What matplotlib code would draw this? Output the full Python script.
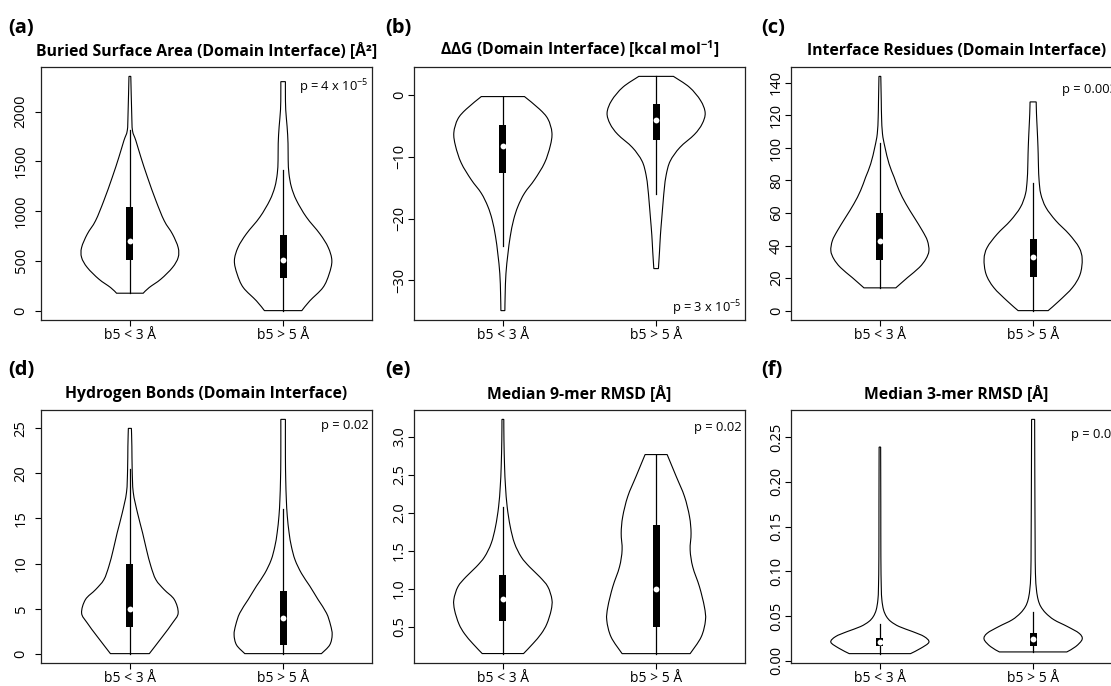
import numpy as np
import matplotlib
matplotlib.use("Agg")
import matplotlib.pyplot as plt
from matplotlib.path import Path
from matplotlib.patches import PathPatch, Rectangle
from matplotlib.ticker import FuncFormatter

plt.rcParams['font.family'] = ['Open Sans', 'DejaVu Sans']
plt.rcParams['mathtext.fontset'] = 'custom'
plt.rcParams['mathtext.rm'] = 'Open Sans'
plt.rcParams['mathtext.bf'] = 'Open Sans:bold'
plt.rcParams['mathtext.it'] = 'Open Sans:italic'

groups = ["b5 < 3 Å", "b5 > 5 Å"]

# violin outlines: levels (bottom -> top) and half widths (x units)
# (a) buried surface area
a1_y = [175, 232, 316, 433, 534, 634, 769, 903, 1104, 1339, 1540, 1708, 1809, 1977, 2353]
a1_w = [0.087, 0.126, 0.202, 0.278, 0.315, 0.315, 0.278, 0.224, 0.17, 0.115, 0.072, 0.039, 0.017, 0.012, 0.006]
a2_y = [0, 98, 232, 367, 502, 636, 771, 939, 1108, 1242, 1377, 1512, 1680, 1848, 2017, 2185, 2300]
a2_w = [0.122, 0.174, 0.26, 0.30, 0.318, 0.294, 0.24, 0.152, 0.087, 0.054, 0.038, 0.033, 0.032, 0.026, 0.017, 0.015, 0.015]
a_lo = [175, 0]
a_q1 = [507, 327]
a_med = [702, 508]
a_q3 = [1037, 761]
a_hi = [1812, 1411]

# (b) ddG
b1_y = [-34.9, -32.2, -28.9, -25.7, -22.9, -20.2, -18.05, -15.9, -13.7, -11.0, -8.26, -6.1, -3.9, -2.3, -0.27]
b1_w = [0.013, 0.015, 0.02, 0.033, 0.048, 0.07, 0.098, 0.141, 0.207, 0.272, 0.309, 0.32, 0.294, 0.239, 0.141]
b2_y = [-28.1, -25.4, -22.7, -19.9, -17.2, -15.05, -12.9, -10.7, -8.5, -6.4, -4.7, -2.9, -0.9, 1.25, 3.0]
b2_w = [0.015, 0.022, 0.028, 0.037, 0.046, 0.054, 0.066, 0.092, 0.155, 0.25, 0.30, 0.32, 0.29, 0.217, 0.113]
b_lo = [-24.5, -16.0]
b_q1 = [-12.7, -7.3]
b_med = [-8.3, -4.0]
b_q3 = [-4.84, -1.5]
b_hi = [-0.27, 3.0]

# (c) interface residues
c1_y = [14, 20.3, 26.5, 31.7, 36.8, 43, 49, 57.3, 65.6, 73.8, 82, 90.2, 100.5, 108.7, 119, 129, 144]
c1_w = [0.104, 0.18, 0.257, 0.30, 0.32, 0.31, 0.278, 0.224, 0.17, 0.126, 0.093, 0.06, 0.033, 0.017, 0.011, 0.009, 0.006]
c2_y = [0, 6, 14.2, 22.4, 31.7, 38.8, 47, 55.3, 63.5, 71.7, 80, 88.2, 96.4, 104.6, 112.8, 121, 128.3]
c2_w = [0.098, 0.17, 0.257, 0.307, 0.32, 0.30, 0.235, 0.148, 0.083, 0.05, 0.039, 0.035, 0.033, 0.03, 0.026, 0.022, 0.02]
c_lo = [14, 0]
c_q1 = [31.4, 20.8]
c_med = [42.5, 32.9]
c_q3 = [60.2, 44.2]
c_hi = [103, 78.7]

# (d) hydrogen bonds
d1_y = [0, 1.9, 3.4, 4.5, 6.0, 7.1, 8.2, 9.7, 11.5, 13.4, 15.6, 17.9, 20.4, 23.0, 25.0]
d1_w = [0.127, 0.213, 0.278, 0.315, 0.29, 0.224, 0.17, 0.137, 0.109, 0.083, 0.05, 0.022, 0.015, 0.013, 0.01]
d2_y = [0, 0.96, 2.1, 3.2, 4.5, 6.0, 7.5, 8.9, 10.4, 11.9, 13.4, 15.3, 17.1, 19.3, 21.9, 26]
d2_w = [0.25, 0.304, 0.32, 0.309, 0.283, 0.228, 0.174, 0.12, 0.078, 0.054, 0.039, 0.027, 0.021, 0.017, 0.015, 0.015]
d_lo = [0, 0]
d_q1 = [3, 1]
d_med = [5, 4]
d_q3 = [10, 7]
d_hi = [20.5, 16]

# (e) 9-mer RMSD
e1_y = [0.15, 0.28, 0.41, 0.54, 0.72, 0.86, 1.03, 1.16, 1.29, 1.42, 1.60, 1.82, 2.08, 2.35, 2.61, 2.96, 3.23]
e1_w = [0.135, 0.196, 0.25, 0.287, 0.315, 0.32, 0.293, 0.24, 0.174, 0.12, 0.076, 0.048, 0.028, 0.017, 0.011, 0.007, 0.006]
e2_y = [0.149, 0.368, 0.588, 0.764, 1.028, 1.29, 1.513, 1.733, 1.95, 2.217, 2.48, 2.767]
e2_w = [0.222, 0.294, 0.322, 0.315, 0.283, 0.239, 0.222, 0.228, 0.218, 0.185, 0.131, 0.072]
e_lo = [0.15, 0.149]
e_q1 = [0.58, 0.50]
e_med = [0.87, 0.994]
e_q3 = [1.18, 1.843]
e_hi = [2.08, 2.767]

# (f) 3-mer RMSD
f1_y = [0.0078, 0.0138, 0.0206, 0.0269, 0.0325, 0.0381, 0.0437, 0.0493, 0.0568, 0.068, 0.083, 0.1166, 0.173, 0.239]
f1_w = [0.2, 0.267, 0.32, 0.289, 0.213, 0.126, 0.072, 0.043, 0.024, 0.013, 0.009, 0.0065, 0.006, 0.005]
f2_y = [0.0097, 0.0157, 0.0239, 0.0306, 0.0381, 0.0456, 0.0531, 0.0605, 0.068, 0.079, 0.098, 0.135, 0.21, 0.27]
f2_w = [0.22, 0.278, 0.32, 0.30, 0.224, 0.137, 0.083, 0.05, 0.033, 0.022, 0.015, 0.013, 0.011, 0.01]
f_lo = [0.0078, 0.0097]
f_q1 = [0.0164, 0.0164]
f_med = [0.0206, 0.024]
f_q3 = [0.025, 0.0314]
f_hi = [0.0407, 0.054]

titles = ["Buried Surface Area (Domain Interface) [Å²]",
          r"ΔΔG (Domain Interface) [kcal mol$^{\mathbf{-1}}$]",
          "Interface Residues (Domain Interface)",
          "Hydrogen Bonds (Domain Interface)",
          "Median 9-mer RMSD [Å]",
          "Median 3-mer RMSD [Å]"]
letters = ["(a)", "(b)", "(c)", "(d)", "(e)", "(f)"]
pvals = [r"p = 4 x 10$^{-5}$", r"p = 3 x 10$^{-5}$", "p = 0.003",
         "p = 0.02", "p = 0.02", "p = 0.03"]

yticks = [[0, 500, 1000, 1500, 2000],
          [-30, -20, -10, 0],
          [0, 20, 40, 60, 80, 100, 120, 140],
          [0, 5, 10, 15, 20, 25],
          [0.5, 1.0, 1.5, 2.0, 2.5, 3.0],
          [0.00, 0.05, 0.10, 0.15, 0.20, 0.25]]
yfmt = ["%d", "%d", "%d", "%d", "%.1f", "%.2f"]


def curve(xs, ys):
    # smooth bezier chain through the outline points
    pts = np.column_stack([xs, ys])
    ext = np.vstack([pts[0], pts, pts[-1]])
    verts = []
    for i in range(len(pts) - 1):
        p0, p1, p2, p3 = ext[i], ext[i + 1], ext[i + 2], ext[i + 3]
        verts += [p1 + (p2 - p0) / 6.0, p2 - (p3 - p1) / 6.0, p2]
    return pts[0], verts


def violin(ax, pos, ys, ws):
    ys = np.asarray(ys, float)
    ws = np.asarray(ws, float)
    start, left = curve(pos - ws, ys)
    rstart, right = curve((pos + ws)[::-1], ys[::-1])
    verts = [start] + left + [rstart] + right + [start]
    codes = ([Path.MOVETO] + [Path.CURVE4] * len(left) + [Path.LINETO]
             + [Path.CURVE4] * len(right) + [Path.CLOSEPOLY])
    ax.add_patch(PathPatch(Path(verts, codes), facecolor="white",
                           edgecolor="black", lw=0.8, zorder=2))


panels = [
    ([(a1_y, a1_w), (a2_y, a2_w)], (a_lo, a_q1, a_med, a_q3, a_hi)),
    ([(b1_y, b1_w), (b2_y, b2_w)], (b_lo, b_q1, b_med, b_q3, b_hi)),
    ([(c1_y, c1_w), (c2_y, c2_w)], (c_lo, c_q1, c_med, c_q3, c_hi)),
    ([(d1_y, d1_w), (d2_y, d2_w)], (d_lo, d_q1, d_med, d_q3, d_hi)),
    ([(e1_y, e1_w), (e2_y, e2_w)], (e_lo, e_q1, e_med, e_q3, e_hi)),
    ([(f1_y, f1_w), (f2_y, f2_w)], (f_lo, f_q1, f_med, f_q3, f_hi)),
]

W, H = 1111, 686
fig = plt.figure(figsize=(W / 100, H / 100), dpi=100)

col_left = [41, 414, 791]
letter_x = [8, 385, 761]
label_pad = [4.5, 0.5, 0.5]
row_top = [67, 410]
ax_w, ax_h = 331, 253
ptext_y = [0.92, 0.045, 0.91, 0.94, 0.93, 0.905]
ptext_x = [0.99, 0.99, 0.985, 0.99, 0.99, 0.99]

for k, (viols, stats) in enumerate(panels):
    r, c = divmod(k, 3)
    x0 = col_left[c]
    yt = row_top[r]
    ax = fig.add_axes([x0 / W, 1 - (yt + ax_h) / H, ax_w / W, ax_h / H])
    lo, q1, med, q3, hi = stats
    allv = []
    for i, (ys, ws) in enumerate(viols):
        pos = i + 1
        violin(ax, pos, ys, ws)
        allv += list(ys)
        ax.plot([pos, pos], [lo[i], hi[i]], color="black", lw=0.9, zorder=3)
        ax.add_patch(Rectangle((pos - 0.023, q1[i]), 0.046, q3[i] - q1[i],
                               facecolor="black", edgecolor="none", zorder=4))
        ax.plot([pos], [med[i]], "o", color="white", ms=4.2, mew=0, zorder=5)
    lo_v, hi_v = min(allv), max(allv)
    pad = 0.04 * (hi_v - lo_v)
    ax.set_ylim(lo_v - pad, hi_v + pad)
    ax.set_xlim(0.42, 2.58)
    ax.set_xticks([1, 2])
    ax.set_xticklabels(groups, fontsize=10)
    ax.set_yticks(yticks[k])
    fmt = yfmt[k]
    ax.yaxis.set_major_formatter(FuncFormatter(lambda v, p, f=fmt: (f % v).replace("-", "\u2212")))
    ax.tick_params(axis="y", labelrotation=90, labelsize=10.5, length=4.5, width=0.8,
                   pad=label_pad[c])
    ax.tick_params(axis="x", length=4.5, width=0.8, pad=1.5)
    for lab in ax.get_yticklabels():
        lab.set_va("center")
    for s in ax.spines.values():
        s.set_linewidth(0.9)
        s.set_color("#222222")
    ax.set_title(titles[k], fontsize=11.3, fontweight="bold", pad=8.5)
    ax.text(ptext_x[k], ptext_y[k], pvals[k], transform=ax.transAxes,
            ha="right", va="center", fontsize=9.3)
    fig.text(letter_x[c] / W, 1 - (yt - 39.5) / H, letters[k], fontsize=14.5,
             fontweight="bold", va="center", ha="left")

fig.savefig("out.png", dpi=100)
